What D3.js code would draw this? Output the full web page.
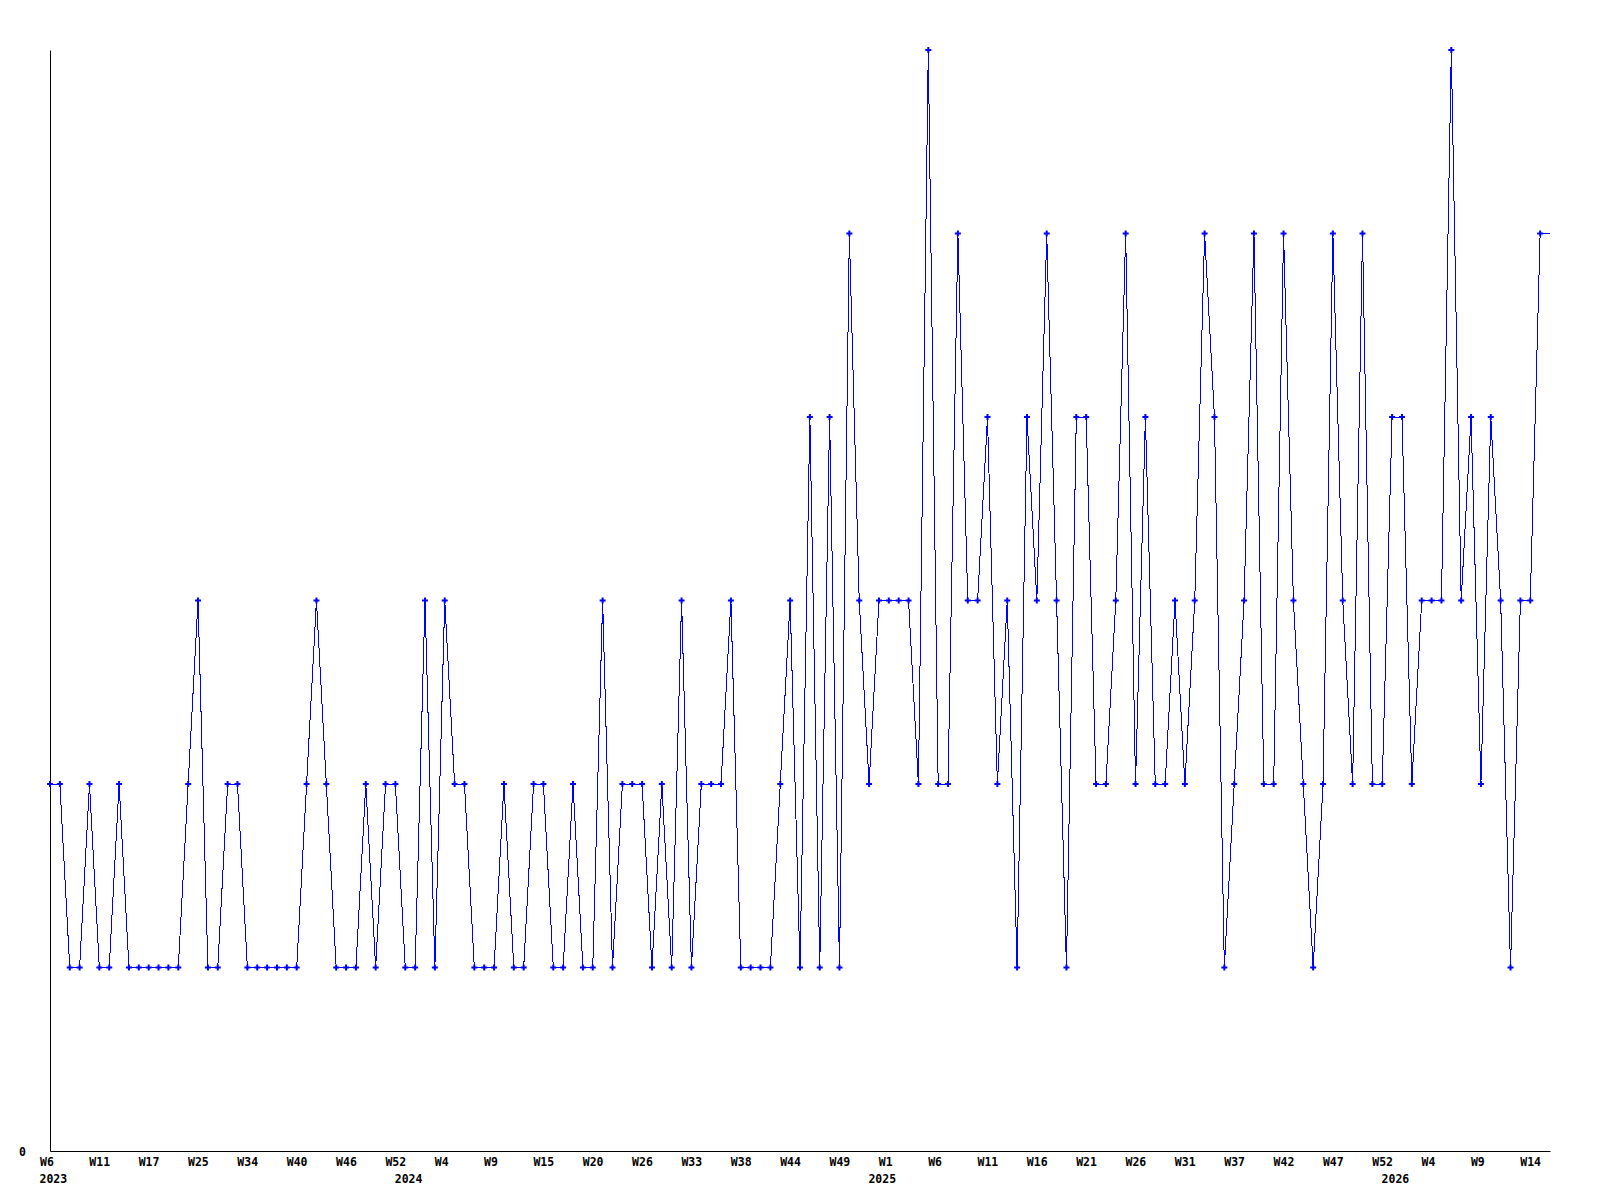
<!DOCTYPE html>
<html>
<head>
<meta charset="utf-8">
<script src="https://cdn.jsdelivr.net/npm/d3@7"></script>
<style>
  body { margin: 0; background: #fff; }
  svg text { font-family: 'DejaVu Sans Mono', monospace; font-weight: bold; font-size: 11.5px; fill: #000; }
</style>
</head>
<body>
<div id="chart"></div>
<script>
// one value per data point (weekly), last one is the open week
const values = [
  2, 2, 1, 1, 2, 1, 1, 2, 1, 1,
  1, 1, 1, 1, 2, 3, 1, 1, 2, 2,
  1, 1, 1, 1, 1, 1, 2, 3, 2, 1,
  1, 1, 2, 1, 2, 2, 1, 1, 3, 1,
  3, 2, 2, 1, 1, 1, 2, 1, 1, 2,
  2, 1, 1, 2, 1, 1, 3, 1, 2, 2,
  2, 1, 2, 1, 3, 1, 2, 2, 2, 3,
  1, 1, 1, 1, 2, 3, 1, 4, 1, 4,
  1, 5, 3, 2, 3, 3, 3, 3, 2, 6,
  2, 2, 5, 3, 3, 4, 2, 3, 1, 4,
  3, 5, 3, 1, 4, 4, 2, 2, 3, 5,
  2, 4, 2, 2, 3, 2, 3, 5, 4, 1,
  2, 3, 5, 2, 2, 5, 3, 2, 1, 2,
  5, 3, 2, 5, 2, 2, 4, 4, 2, 3,
  3, 3, 6, 3, 4, 2, 4, 3, 1, 3,
  3, 5, 5
]

// a week label on every 5th point
const weekLabels = [
  'W6', 'W11', 'W17', 'W25', 'W34', 'W40', 'W46', 'W52', 'W4', 'W9',
  'W15', 'W20', 'W26', 'W33', 'W38', 'W44', 'W49', 'W1', 'W6', 'W11',
  'W16', 'W21', 'W26', 'W31', 'W37', 'W42', 'W47', 'W52', 'W4', 'W9',
  'W14'
]
const weekStep = 5

const yearIndex = [0, 36, 84, 136]
const yearNames = ['2023', '2024', '2025', '2026']

const width = 1600
const height = 1200
const margin = { top: 50, right: 50, bottom: 49, left: 50 }
const labelShift = -10.5

const svg = d3.select('#chart').append('svg')
  .attr('width', width)
  .attr('height', height)

const x = d3.scaleLinear()
  .domain([0, values.length - 1])
  .range([margin.left, width - margin.right])

const y = d3.scaleLinear()
  .domain([0, d3.max(values)])
  .range([height - margin.bottom, margin.top])

// axes
const xAxis = d3.axisBottom(x)
  .tickValues(weekLabels.map((d, i) => i * weekStep))
  .tickFormat((d, i) => weekLabels[i])
  .tickSizeInner(0)
  .tickSizeOuter(0)
  .tickPadding(7)

const gx = svg.append('g')
  .attr('transform', `translate(0,${y(0)})`)
  .call(xAxis)
gx.select('.domain').attr('stroke', '#000')
gx.selectAll('text')
  .attr('text-anchor', 'start')
  .attr('x', labelShift)
  .attr('font-size', null)
  .attr('font-family', null)

gx.selectAll('text.year')
  .data(yearIndex)
  .enter()
  .append('text')
  .attr('class', 'year')
  .attr('text-anchor', 'start')
  .attr('x', d => x(d) + labelShift)
  .attr('y', 32)
  .text((d, i) => yearNames[i])

const gy = svg.append('g')
  .attr('transform', `translate(${x(0)},0)`)
  .call(d3.axisLeft(y).tickValues([0]).tickFormat(d3.format('d'))
    .tickSizeInner(0).tickSizeOuter(0).tickPadding(24))
gy.select('.domain').attr('stroke', '#000')
gy.selectAll('text').attr('font-size', null).attr('font-family', null).attr('dy', '0.4em')

// series
const line = d3.line()
  .x((d, i) => x(i))
  .y(d => y(d))

svg.append('path')
  .datum(values)
  .attr('fill', 'none')
  .attr('stroke', '#0000ff')
  .attr('stroke-width', 1)
  .attr('shape-rendering', 'crispEdges')
  .attr('d', line)

// the open week gets no marker
const marker = d3.symbol().type(d3.symbolCross).size(20)
svg.append('g')
  .selectAll('path')
  .data(values.slice(0, -1))
  .enter()
  .append('path')
  .attr('transform', (d, i) => `translate(${x(i)},${y(d)})`)
  .attr('fill', '#0000ff')
  .attr('d', marker)
</script>
</body>
</html>
